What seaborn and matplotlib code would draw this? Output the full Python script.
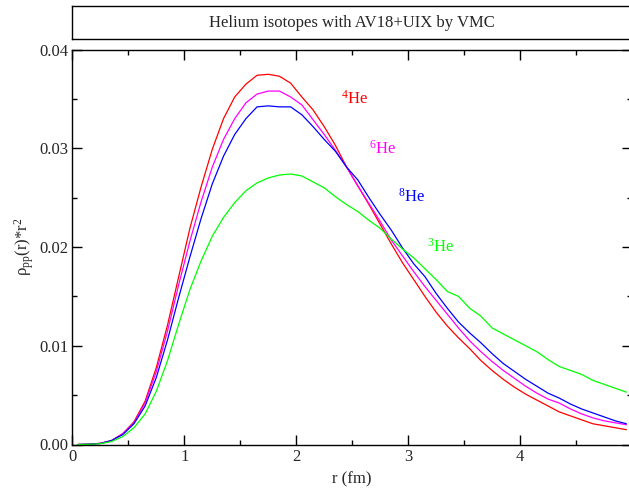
import numpy as np
import pandas as pd
import matplotlib
matplotlib.use("Agg")
import matplotlib.pyplot as plt
import seaborn as sns

# ---- data ----
r = [0.05, 0.15, 0.25, 0.35, 0.45, 0.55, 0.65, 0.75, 0.85, 0.95,
     1.05, 1.15, 1.25, 1.35, 1.45, 1.55, 1.65, 1.75, 1.85, 1.95,
     2.05, 2.15, 2.25, 2.35, 2.45, 2.55, 2.65, 2.75, 2.85, 2.95,
     3.05, 3.15, 3.25, 3.35, 3.45, 3.55, 3.65, 3.75, 3.85, 3.95,
     4.05, 4.15, 4.25, 4.35, 4.45, 4.55, 4.65, 4.75, 4.85, 4.95]

he4 = [0.0, 0.00003, 0.00012, 0.0004, 0.0011, 0.0023, 0.0044, 0.0078, 0.0121, 0.0170,
       0.0219, 0.0261, 0.0299, 0.0330, 0.0352, 0.0365, 0.0374, 0.0375, 0.0373, 0.0366,
       0.0352, 0.0339, 0.0322, 0.0303, 0.0281, 0.0262, 0.0243, 0.0223, 0.0203, 0.0184,
       0.0167, 0.0150, 0.0134, 0.0120, 0.0108, 0.0097, 0.0085, 0.0075, 0.0066, 0.0058,
       0.0051, 0.0045, 0.0039, 0.0033, 0.0029, 0.0025, 0.0021, 0.0019, 0.0017, 0.0015]

he6 = [0.0, 0.00003, 0.00012, 0.0004, 0.0011, 0.0022, 0.0042, 0.0074, 0.0115, 0.0162,
       0.0206, 0.0246, 0.0281, 0.0309, 0.0330, 0.0346, 0.0355, 0.0358, 0.0358, 0.0352,
       0.0344, 0.0329, 0.0314, 0.0298, 0.0281, 0.0262, 0.0244, 0.0226, 0.0207, 0.0191,
       0.0175, 0.0160, 0.0146, 0.0132, 0.0118, 0.0105, 0.0094, 0.0084, 0.0075, 0.0067,
       0.0059, 0.0052, 0.0046, 0.0042, 0.0036, 0.0031, 0.0027, 0.0024, 0.0022, 0.0020]

he8 = [0.0, 0.00003, 0.0001, 0.0004, 0.0010, 0.0021, 0.0039, 0.0068, 0.0106, 0.0149,
       0.0190, 0.0229, 0.0264, 0.0292, 0.0314, 0.0330, 0.0342, 0.0343, 0.0342, 0.0342,
       0.0334, 0.0322, 0.0309, 0.0297, 0.0281, 0.0268, 0.0250, 0.0233, 0.0217, 0.0199,
       0.0183, 0.0170, 0.0153, 0.0138, 0.0124, 0.0113, 0.0103, 0.0092, 0.0082, 0.0074,
       0.0066, 0.0059, 0.0052, 0.0047, 0.0041, 0.0036, 0.0032, 0.0028, 0.0024, 0.0021]

he3 = [0.0, 0.00002, 0.00008, 0.0003, 0.0008, 0.0017, 0.0031, 0.0054, 0.0085, 0.0122,
       0.0157, 0.0186, 0.0211, 0.0230, 0.0245, 0.0257, 0.0265, 0.0270, 0.0273, 0.0274,
       0.0272, 0.0266, 0.0260, 0.0251, 0.0243, 0.0236, 0.0227, 0.0219, 0.0208, 0.0198,
       0.0189, 0.0178, 0.0167, 0.0155, 0.0150, 0.0138, 0.0130, 0.0118, 0.0112, 0.0106,
       0.0100, 0.0094, 0.0086, 0.0079, 0.0075, 0.0071, 0.0065, 0.0061, 0.0057, 0.0053]

series_names = ["4He", "6He", "8He", "3He"]
series_labels = [r"$^{4}$He", r"$^{6}$He", r"$^{8}$He", r"$^{3}$He"]
label_x = [2.40, 2.65, 2.91, 3.17]
label_y = [0.0350, 0.0300, 0.0251, 0.0200]
colors = ["#ff0000", "#ff00ff", "#0000ff", "#00ff00"]

title = "Helium isotopes with AV18+UIX by VMC"
xlabel = "r (fm)"
ylabel = r"ρ$_{\mathrm{pp}}$(r)*r$^{2}$"
xticks = [0, 1, 2, 3, 4]
yticks = [0.00, 0.01, 0.02, 0.03, 0.04]

# ---- build frame ----
frames = []
for name, vals in zip(series_names, [he4, he6, he8, he3]):
    frames.append(pd.DataFrame({"r": r, "v": vals, "iso": name}))
df = pd.concat(frames, ignore_index=True)

sns.set_style("ticks")
plt.rcParams["font.family"] = ["Liberation Serif", "DejaVu Serif"]
plt.rcParams["mathtext.fontset"] = "custom"
plt.rcParams["mathtext.rm"] = "Liberation Serif"
plt.rcParams["mathtext.it"] = "Liberation Serif:italic"

W, H = 629, 491
fig = plt.figure(figsize=(W / 100, H / 100), dpi=100)

ax_l = 72.4 / W
ax_w = (632.0 - 72.4) / W
ax_b = 1 - 444.5 / H
ax_h = (444.5 - 49.6) / H
ax = fig.add_axes([ax_l, ax_b, ax_w, ax_h])

# title box
tb_b = 1 - 39.3 / H
tb_h = (39.3 - 6.0) / H
tax = fig.add_axes([ax_l, tb_b, ax_w, tb_h])
tax.set_xticks([])
tax.set_yticks([])
for s in tax.spines.values():
    s.set_linewidth(1.0)
    s.set_color("black")
tax.text(0.5, 0.5, title, ha="center", va="center", fontsize=12,
         transform=tax.transAxes)

sns.lineplot(data=df, x="r", y="v", hue="iso", palette=colors,
             hue_order=series_names, estimator=None, sort=False,
             linewidth=0.9, legend=False, ax=ax)

for lab, lx, ly, c in zip(series_labels, label_x, label_y, colors):
    ax.text(lx, ly, lab, color=c, fontsize=12, ha="left", va="center")

ax.set_xlim(0, 5)
ax.set_ylim(0, 0.04)
ax.set_xticks(xticks)
ax.set_xticklabels([str(t) for t in xticks])
ax.set_yticks(yticks)
ax.set_yticklabels([f"{t:.2f}" for t in yticks])
ax.set_xticks(np.arange(0.5, 5.0, 1.0), minor=True)
ax.set_yticks(np.arange(0.005, 0.04, 0.01), minor=True)
ax.tick_params(which="both", direction="in", top=True, right=True,
               labelsize=12, color="black", width=1.0)
ax.tick_params(which="major", length=7.2, pad=3)
ax.tick_params(which="minor", length=3.8)
for s in ax.spines.values():
    s.set_linewidth(1.0)
    s.set_color("black")
ax.set_xlabel(xlabel, fontsize=12, labelpad=5)
ax.set_ylabel(ylabel, fontsize=12, labelpad=2)
ax.grid(False)

fig.savefig("out.png", dpi=100)
